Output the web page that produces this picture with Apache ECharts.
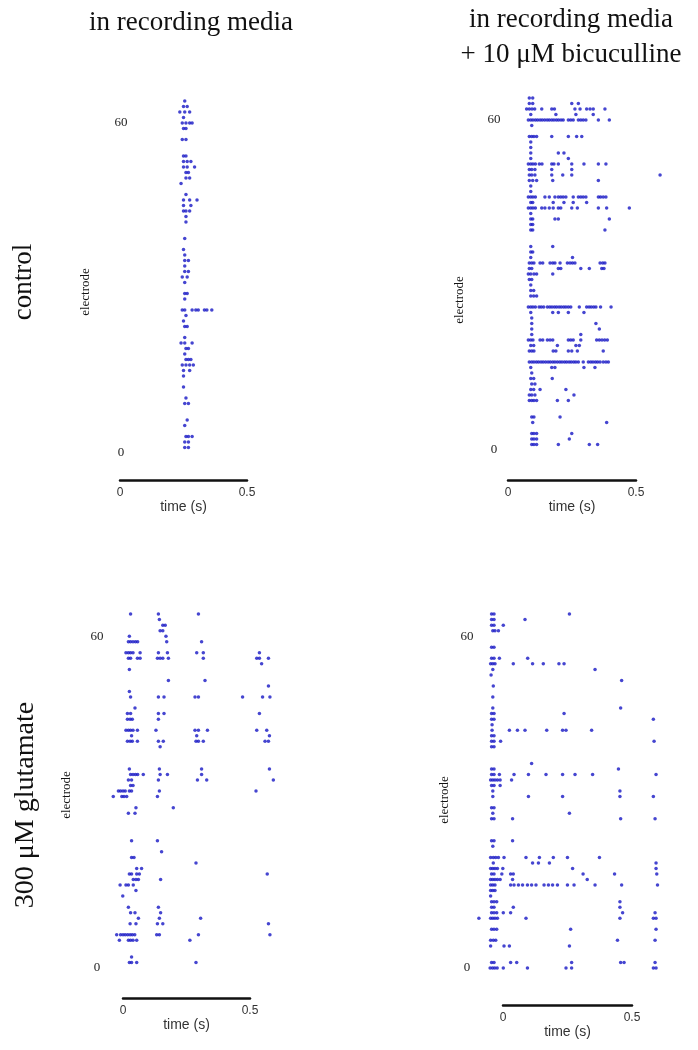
<!DOCTYPE html>
<html>
<head>
<meta charset="utf-8">
<script src="https://cdn.jsdelivr.net/npm/echarts@6/dist/echarts.min.js"></script>
<style>
html, body { margin: 0; padding: 0; background: #fff; }
#chart { width: 698px; height: 1050px; }
</style>
</head>
<body>
<div id="chart"></div>
<script>
// spike rasters, one row per electrode: [electrode, [spike times (s)]]
const controlMedia = [
  [64, [0.255]], [63, [0.25, 0.265]], [62, [0.235, 0.255, 0.275]], [61, [0.25]],
  [60, [0.245, 0.26, 0.275, 0.285]], [59, [0.25, 0.26]], [57, [0.245, 0.26]],
  [54, [0.25, 0.26]], [53, [0.25, 0.265, 0.28]], [52, [0.25, 0.265, 0.295]],
  [51, [0.26, 0.27]], [50, [0.26, 0.275]], [49, [0.24]], [47, [0.26]],
  [46, [0.25, 0.275, 0.305]], [45, [0.25, 0.28]], [44, [0.25, 0.26, 0.275]],
  [43, [0.26]], [42, [0.26]], [39, [0.255]], [37, [0.25]], [36, [0.255]],
  [35, [0.255, 0.27]], [34, [0.255]], [33, [0.255, 0.27]], [32, [0.245, 0.265]],
  [31, [0.255]], [29, [0.255, 0.265]], [28, [0.255]],
  [26, [0.245, 0.255, 0.285, 0.3, 0.31, 0.335, 0.345, 0.365]], [25, [0.26]],
  [24, [0.25]], [23, [0.255, 0.265]], [21, [0.255]], [20, [0.24, 0.255, 0.285]],
  [19, [0.26, 0.27]], [18, [0.255]], [17, [0.26, 0.27, 0.28]],
  [16, [0.245, 0.26, 0.275, 0.29]], [15, [0.25, 0.275]], [14, [0.25]], [12, [0.25]],
  [10, [0.26]], [9, [0.255, 0.27]], [6, [0.265]], [5, [0.255]],
  [3, [0.26, 0.27, 0.285]], [2, [0.255, 0.27]], [1, [0.255, 0.27]]
];

const controlBicuculline = [
  [64, [0.075, 0.089]], [63, [0.075, 0.089, 0.249, 0.276]],
  [62, [0.064, 0.075, 0.086, 0.097, 0.126, 0.167, 0.178, 0.262, 0.283, 0.31, 0.324, 0.337, 0.385]],
  [61, [0.081, 0.184, 0.266, 0.337]],
  [60, [0.071, 0.081, 0.09, 0.1, 0.109, 0.119, 0.128, 0.138, 0.148, 0.157, 0.167, 0.176, 0.186, 0.195, 0.205, 0.214, 0.235, 0.245, 0.255, 0.276, 0.286, 0.296, 0.307, 0.358, 0.403]],
  [59, [0.085]], [57, [0.075, 0.085, 0.094, 0.105, 0.167, 0.235, 0.269, 0.29]],
  [56, [0.081]], [55, [0.081]], [54, [0.081, 0.194, 0.217]], [53, [0.081, 0.235]],
  [52, [0.071, 0.081, 0.09, 0.1, 0.116, 0.127, 0.167, 0.176, 0.194, 0.249, 0.299, 0.358, 0.389]],
  [51, [0.075, 0.085, 0.098, 0.167, 0.249]],
  [50, [0.075, 0.085, 0.098, 0.167, 0.212, 0.249, 0.611]],
  [49, [0.075, 0.089, 0.105, 0.171, 0.358]], [48, [0.081]], [47, [0.081]],
  [46, [0.071, 0.081, 0.09, 0.1, 0.139, 0.157, 0.18, 0.194, 0.204, 0.214, 0.225, 0.255, 0.276, 0.286, 0.296, 0.307, 0.358, 0.367, 0.378, 0.389]],
  [45, [0.081, 0.089, 0.173, 0.217, 0.255, 0.31]],
  [44, [0.071, 0.081, 0.09, 0.1, 0.126, 0.139, 0.157, 0.173, 0.194, 0.204, 0.249, 0.272, 0.358, 0.392, 0.485]],
  [43, [0.081]], [42, [0.081, 0.089, 0.18, 0.194, 0.403]], [41, [0.081, 0.089]],
  [40, [0.081, 0.089, 0.385]], [37, [0.081, 0.171]], [36, [0.081, 0.089]],
  [35, [0.081, 0.252]],
  [34, [0.075, 0.085, 0.094, 0.119, 0.13, 0.16, 0.171, 0.18, 0.201, 0.231, 0.242, 0.252, 0.262, 0.365, 0.376, 0.385]],
  [33, [0.075, 0.085, 0.194, 0.204, 0.286, 0.321, 0.372, 0.381]],
  [32, [0.071, 0.081, 0.094, 0.105, 0.171]], [31, [0.075, 0.085]], [30, [0.081]],
  [29, [0.081, 0.093]], [28, [0.081, 0.093, 0.105]],
  [26, [0.071, 0.081, 0.09, 0.1, 0.115, 0.124, 0.134, 0.149, 0.159, 0.168, 0.178, 0.187, 0.197, 0.206, 0.216, 0.225, 0.235, 0.245, 0.28, 0.31, 0.32, 0.329, 0.339, 0.348, 0.367, 0.41]],
  [25, [0.081, 0.171, 0.194, 0.235, 0.299]], [24, [0.085]], [23, [0.085, 0.348]],
  [22, [0.085, 0.362]], [21, [0.085, 0.286]],
  [20, [0.071, 0.081, 0.09, 0.119, 0.13, 0.149, 0.16, 0.171, 0.235, 0.245, 0.255, 0.286, 0.351, 0.362, 0.373, 0.384, 0.395]],
  [19, [0.081, 0.093, 0.19, 0.266, 0.28]],
  [18, [0.075, 0.085, 0.094, 0.173, 0.184, 0.235, 0.249, 0.272, 0.378]],
  [16, [0.075, 0.085, 0.094, 0.104, 0.113, 0.123, 0.132, 0.142, 0.152, 0.161, 0.171, 0.18, 0.19, 0.2, 0.209, 0.219, 0.228, 0.238, 0.247, 0.257, 0.266, 0.276, 0.296, 0.317, 0.327, 0.336, 0.346, 0.355, 0.365, 0.378, 0.389, 0.399]],
  [15, [0.081, 0.167, 0.18, 0.299, 0.344]], [14, [0.085]], [13, [0.081, 0.093, 0.169]],
  [12, [0.085, 0.098]], [11, [0.081, 0.093, 0.119, 0.225]],
  [10, [0.075, 0.085, 0.098, 0.258]], [9, [0.075, 0.085, 0.094, 0.105, 0.19, 0.235]],
  [6, [0.085, 0.094, 0.201]], [5, [0.089, 0.392]], [3, [0.085, 0.094, 0.105, 0.249]],
  [2, [0.085, 0.094, 0.105, 0.239]], [1, [0.085, 0.094, 0.105, 0.194, 0.321, 0.355]]
];

const glutamateMedia = [
  [64, [0.027, 0.141, 0.305]], [63, [0.145]], [62, [0.159, 0.169]], [61, [0.148, 0.159]],
  [60, [0.022, 0.172]], [59, [0.018, 0.027, 0.037, 0.047, 0.056, 0.175, 0.318]],
  [57, [0.008, 0.018, 0.027, 0.037, 0.066, 0.141, 0.178, 0.298, 0.325, 0.555]],
  [56, [0.018, 0.027, 0.055, 0.066, 0.137, 0.148, 0.159, 0.182, 0.325, 0.544, 0.555, 0.592]],
  [55, [0.564]], [54, [0.022]], [52, [0.182, 0.332]], [51, [0.592]], [50, [0.022]],
  [49, [0.027, 0.141, 0.164, 0.291, 0.305, 0.486, 0.568, 0.598]], [47, [0.045]],
  [46, [0.014, 0.027, 0.141, 0.164, 0.555]], [45, [0.014, 0.025, 0.034, 0.141]],
  [43, [0.008, 0.018, 0.027, 0.037, 0.055, 0.131, 0.291, 0.305, 0.342, 0.544, 0.585]],
  [42, [0.031, 0.298, 0.596]],
  [41, [0.014, 0.025, 0.034, 0.055, 0.141, 0.161, 0.295, 0.305, 0.325, 0.578, 0.592]],
  [40, [0.148]], [36, [0.022, 0.145, 0.318, 0.596]],
  [35, [0.027, 0.037, 0.047, 0.056, 0.079, 0.148, 0.178, 0.318]],
  [34, [0.018, 0.031, 0.141, 0.301, 0.339, 0.612]], [33, [0.027, 0.037]],
  [32, [-0.023, -0.014, -0.004, 0.005, 0.022, 0.031, 0.145, 0.541]],
  [31, [-0.044, -0.009, 0, 0.011, 0.137]], [29, [0.049, 0.202]], [28, [0.018, 0.045]],
  [23, [0.031, 0.137]], [21, [0.154]], [20, [0.031, 0.041]], [19, [0.295]],
  [18, [0.052, 0.072]], [17, [0.022, 0.031, 0.052, 0.063, 0.587]],
  [16, [0.038, 0.049, 0.059, 0.15]], [15, [-0.016, 0.008, 0.018, 0.038]], [14, [0.049]],
  [13, [-0.005]], [11, [0.018, 0.141]], [10, [0.027, 0.045, 0.15]], [9, [0.059, 0.145, 0.314]],
  [8, [0.025, 0.049, 0.137, 0.159, 0.592]],
  [6, [-0.03, -0.014, -0.004, 0.005, 0.015, 0.025, 0.034, 0.044, 0.134, 0.145, 0.305, 0.598]],
  [5, [-0.019, 0.018, 0.027, 0.037, 0.052, 0.27]], [2, [0.031]], [1, [0.022, 0.031, 0.052, 0.295]]
];

const glutamateBicuculline = [
  [64, [-0.055, -0.045, 0.264]], [63, [-0.055, -0.045, 0.082]], [62, [-0.055, -0.045, -0.007]],
  [61, [-0.05, -0.041, -0.027]], [58, [-0.055, -0.045]], [56, [-0.055, -0.045, -0.023, 0.093]],
  [55, [-0.059, -0.05, -0.041, 0.034, 0.113, 0.157, 0.221, 0.242]], [54, [-0.05, 0.369]],
  [53, [-0.057]], [52, [0.478]], [51, [-0.048]], [49, [-0.05]], [47, [-0.05, 0.474]],
  [46, [-0.055, -0.045, 0.242]], [45, [-0.055, -0.045, 0.608]], [44, [-0.053]],
  [43, [-0.053, 0.018, 0.051, 0.082, 0.171, 0.236, 0.25, 0.355]], [42, [-0.055, -0.045]],
  [41, [-0.055, -0.045, -0.018, 0.611]], [40, [-0.055, -0.045]], [37, [0.109]],
  [36, [-0.055, -0.045, 0.465]],
  [35, [-0.055, -0.045, -0.023, 0.037, 0.096, 0.168, 0.236, 0.287, 0.359, 0.619]],
  [34, [-0.059, -0.05, -0.041, -0.031, -0.02, 0.027]], [33, [-0.055, -0.045, -0.02]],
  [32, [-0.05, 0.471]], [31, [-0.05, 0.096, 0.236, 0.471, 0.608]], [29, [-0.055, -0.045]],
  [28, [-0.05, 0.264]], [27, [-0.055, -0.045, 0.031, 0.474, 0.615]],
  [23, [-0.055, -0.045, 0.031]], [22, [-0.05]],
  [20, [-0.059, -0.048, -0.038, -0.027, -0.004, 0.086, 0.141, 0.198, 0.256, 0.387]],
  [19, [-0.048, 0.113, 0.137, 0.182, 0.619]],
  [18, [-0.059, -0.05, -0.041, -0.031, -0.009, 0.277, 0.619]],
  [17, [-0.055, -0.045, -0.013, 0.023, 0.034, 0.32, 0.449, 0.622]],
  [16, [-0.059, -0.05, -0.041, -0.031, -0.02, 0.031, 0.337]],
  [15, [-0.059, -0.05, -0.041, 0.023, 0.037, 0.055, 0.072, 0.092, 0.109, 0.127, 0.16, 0.178, 0.195, 0.215, 0.256, 0.283, 0.369, 0.478, 0.625]],
  [14, [-0.059, -0.05, -0.041]], [13, [-0.059]], [12, [-0.055, -0.045, -0.034, 0.471]],
  [11, [-0.055, -0.045, 0.034, 0.471]], [10, [-0.055, -0.045, -0.034, -0.007, 0.023, 0.482, 0.615]],
  [9, [-0.107, -0.059, -0.05, -0.041, -0.031, 0.086, 0.471, 0.608, 0.619]],
  [7, [-0.055, -0.045, -0.034, 0.269, 0.619]], [5, [-0.059, -0.048, -0.038, 0.461, 0.615]],
  [4, [-0.059, -0.004, 0.018, 0.264]], [1, [-0.055, -0.045, 0.023, 0.048, 0.273, 0.474, 0.488, 0.615]],
  [0, [-0.061, -0.051, -0.042, -0.032, -0.007, 0.092, 0.25, 0.273, 0.608, 0.619]]
];

const yTicks = [0, 60];
const xTicks = [0, 0.5];
const columnTitles = ['in recording media', 'in recording media\n+ 10 \u03bcM bicuculline'];
const rowTitles = ['control', '300 \u03bcM glutamate'];
const yName = 'electrode';
const xName = 'time (s)';

const SERIF = '"Liberation Serif", "DejaVu Serif", serif';
const SANS = '"Liberation Sans", Arial, sans-serif';
const T_MAX = 0.7, E_MIN = -1, E_MAX = 66;

// x0/y0: pixel of t=0 / electrode 0, sx/sy: px per s / per electrode
// left: left edge of the dot area, lab: centre of the y labels
// bar: scale bar [x start, x end, y], name: position of "electrode"
const panels = [
  { data: controlMedia, x0: 122, sx: 246, y0: 453, sy: 5.5, left: 135, lab: 121, bar: [120, 247, 480], name: [86, 292] },
  { data: controlBicuculline, x0: 511, sx: 244, y0: 450, sy: 5.5, left: 506, lab: 494, bar: [508, 636, 480], name: [460, 300] },
  { data: glutamateMedia, x0: 124, sx: 244, y0: 968, sy: 5.53, left: 109, lab: 97, bar: [123, 250, 998], name: [67, 795] },
  { data: glutamateBicuculline, x0: 505, sx: 244, y0: 968, sy: 5.53, left: 477, lab: 467, bar: [503, 632, 1005], name: [445, 800] }
];

const chart = echarts.init(document.getElementById('chart'));
const grid = [], xAxis = [], yAxis = [], series = [];

panels.forEach((p, i) => {
  const tMin = (p.left - p.x0) / p.sx;
  grid.push({
    left: p.left,
    top: p.y0 - p.sy * E_MAX,
    width: p.sx * (T_MAX - tMin),
    height: p.sy * (E_MAX - E_MIN)
  });
  xAxis.push({ gridIndex: 2 * i, type: 'value', min: tMin, max: T_MAX, show: false });
  yAxis.push({
    gridIndex: 2 * i,
    type: 'value',
    min: E_MIN,
    max: E_MAX,
    axisLine: { show: false },
    axisTick: { show: false },
    splitLine: { show: false },
    axisLabel: {
      customValues: yTicks,
      align: 'center',
      margin: p.left - p.lab,
      fontFamily: SERIF,
      fontSize: 13,
      color: '#222'
    }
  });

  // scale bar underneath
  grid.push({ left: p.bar[0], top: p.bar[2] - 1, width: p.bar[1] - p.bar[0], height: 1 });
  xAxis.push({
    gridIndex: 2 * i + 1,
    type: 'value',
    min: 0,
    max: 0.5,
    position: 'bottom',
    axisLine: { lineStyle: { color: '#111', width: 2.5 } },
    axisTick: { show: false },
    splitLine: { show: false },
    axisLabel: {
      customValues: xTicks,
      margin: 7,
      fontFamily: SANS,
      fontSize: 12,
      color: '#333'
    },
    name: xName,
    nameLocation: 'middle',
    nameGap: 19,
    nameTextStyle: { fontFamily: SANS, fontSize: 14, color: '#333' }
  });
  yAxis.push({ gridIndex: 2 * i + 1, type: 'value', min: 0, max: 1, show: false });

  const pts = [];
  p.data.forEach(row => row[1].forEach(t => pts.push([t, row[0]])));
  series.push({
    type: 'scatter',
    xAxisIndex: 2 * i,
    yAxisIndex: 2 * i,
    data: pts,
    symbol: 'circle',
    symbolSize: 3.5,
    itemStyle: { color: '#1616c4' },
    silent: true
  });
});

const text = (x, y, str, size, rot) => ({
  type: 'text',
  x: x,
  y: y,
  rotation: rot || 0,
  style: {
    text: str,
    font: size + 'px ' + SERIF,
    fill: '#111',
    textAlign: 'center',
    textVerticalAlign: 'middle',
    lineHeight: 35
  }
});

const graphic = [
  text(191, 23, columnTitles[0], 27),
  text(571, 37, columnTitles[1], 27),
  text(24, 282, rowTitles[0], 27, Math.PI / 2),
  text(26, 805, rowTitles[1], 28, Math.PI / 2)
];
panels.forEach(p => graphic.push(text(p.name[0], p.name[1], yName, 13, Math.PI / 2)));

chart.setOption({
  animation: false,
  backgroundColor: '#fff',
  grid: grid,
  xAxis: xAxis,
  yAxis: yAxis,
  series: series,
  graphic: graphic
});
</script>
</body>
</html>
